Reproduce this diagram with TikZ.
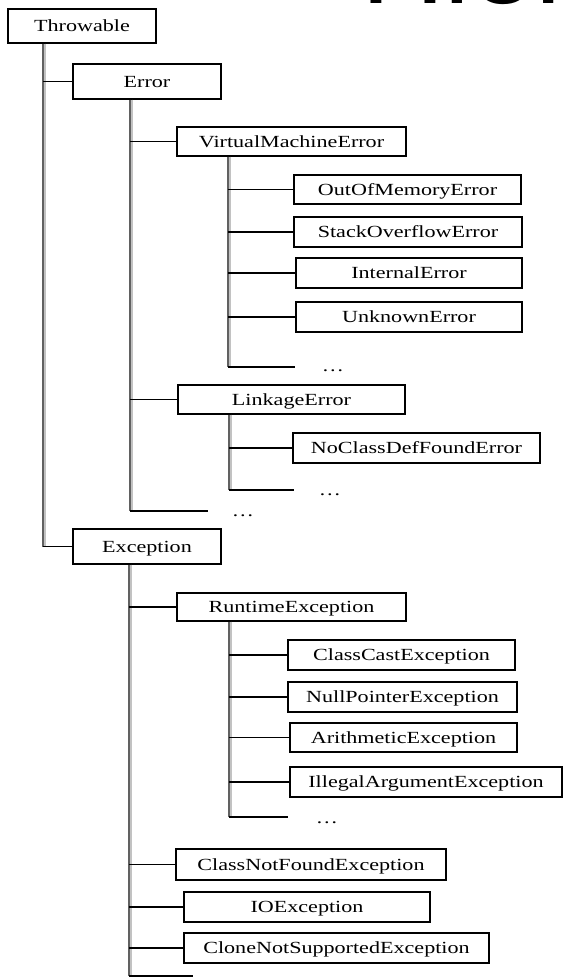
\documentclass[tikz,border=0pt]{standalone}
\usepackage{fontspec}
\setmainfont{Liberation Serif}[FakeStretch=1.3]
\newfontfamily\titlefont{Liberation Sans}

\tikzset{
  cls/.style={draw=black, line width=1.3pt, fill=white, inner sep=0pt,
    text height=11.3pt, text depth=0pt, font=\fontsize{17}{20}\selectfont},
  link/.style={line width=1.3pt, draw=black},
  trunkdark/.style={line width=2.4pt, draw=black!62},
  trunklight/.style={line width=2pt, draw=black!24},
  more/.style={font=\fontsize{17}{20}\selectfont, inner sep=0pt, anchor=base},
}

% class box given by its corners: name, x1, y1, x2, y2, label
\newcommand\clsbox[6]{%
  \node[cls, minimum width={(#4-#2)*1pt}, minimum height={(#5-#3)*1pt}]
    (#1) at ({(#2+#4)/2},{(#3+#5)/2}) {#6};}

\begin{document}
\begin{tikzpicture}[x=1pt, y=-1pt]
\fill[white] (0,0) rectangle (566,979);
\useasboundingbox (0,0) rectangle (566,979);

% large heading, cut by the top edge
\begin{scope}
  \clip (0,0) rectangle (566,979);
  \node[anchor=base west, inner sep=0pt, font=\titlefont\fontsize{116}{120}\selectfont]
    (title) at (360.8,4) {Hierarchy};
\end{scope}

% classes
\clsbox{throw}{8}{9}{156}{43}{Throwable}
\clsbox{err}{73}{64}{221}{99}{Error}
\clsbox{vme}{177}{127}{406}{156}{VirtualMachineError}
\clsbox{oom}{294}{175}{521}{204}{OutOfMemoryError}
\clsbox{soe}{294}{217}{522}{247}{StackOverflowError}
\clsbox{ie}{296}{258}{522}{288}{InternalError}
\clsbox{ue}{296}{302}{522}{332}{UnknownError}
\clsbox{le}{178}{385}{405}{414}{LinkageError}
\clsbox{ncdf}{293}{433}{540}{463}{NoClassDefFoundError}
\clsbox{exc}{73}{529}{221}{564}{Exception}
\clsbox{rte}{177}{593}{406}{621}{RuntimeException}
\clsbox{cce}{288}{640}{515}{670}{ClassCastException}
\clsbox{npe}{288}{682}{517}{712}{NullPointerException}
\clsbox{ae}{290}{723}{517}{752}{ArithmeticException}
\clsbox{iae}{290}{767}{562}{797}{IllegalArgumentException}
\clsbox{cnfe}{176}{849}{446}{880}{ClassNotFoundException}
\clsbox{ioe}{184}{892}{430}{922}{IOException}
\clsbox{cnse}{184}{933}{489}{963}{CloneNotSupportedException}

% x positions of the vertical trunks
\coordinate (tx1) at (43,0);
\coordinate (tx2) at (130,0);
\coordinate (tx3) at (228,0);
\coordinate (tx4) at (229,0);
\coordinate (tx5) at (129,0);
\coordinate (tx6) at (229,0);

% open ends of the lists
\coordinate (e2) at (208,511);
\coordinate (e3) at (295,367);
\coordinate (e4) at (294,490);
\coordinate (e5) at (193,976);
\coordinate (e6) at (288,817);

% trunk ends
\coordinate (top1) at (throw.south -| tx1);
\coordinate (bot1) at (tx1 |- exc.west);
\coordinate (top2) at (err.south -| tx2);
\coordinate (bot2) at (tx2 |- e2);
\coordinate (top3) at (vme.south -| tx3);
\coordinate (bot3) at (tx3 |- e3);
\coordinate (top4) at (le.south -| tx4);
\coordinate (bot4) at (tx4 |- e4);
\coordinate (top5) at (exc.south -| tx5);
\coordinate (bot5) at (tx5 |- e5);
\coordinate (top6) at (rte.south -| tx6);
\coordinate (bot6) at (tx6 |- e6);

\foreach \i in {1,...,6}{
  \draw[trunklight] ([xshift=2pt]top\i) -- ([xshift=2pt]bot\i);
  \draw[trunkdark] (top\i) -- (bot\i);
}

% branches
\foreach \t/\c in {tx1/err, tx1/exc,
                   tx2/vme, tx2/le,
                   tx3/oom, tx3/soe, tx3/ie, tx3/ue,
                   tx4/ncdf,
                   tx5/rte, tx5/cnfe, tx5/ioe, tx5/cnse,
                   tx6/cce, tx6/npe, tx6/ae, tx6/iae}{
  \draw[link] (\t |- \c.west) -- (\c.west);
}
\foreach \t/\e in {tx2/e2, tx3/e3, tx4/e4, tx5/e5, tx6/e6}{
  \draw[link] (\t |- \e) -- (\e);
}

% ellipses after the open ends
\node[more] (d2) at (243,516) {…};
\node[more] (d3) at (333,371) {…};
\node[more] (d4) at (330,495) {…};
\node[more] (d6) at (327,823) {…};
\end{tikzpicture}
\end{document}
